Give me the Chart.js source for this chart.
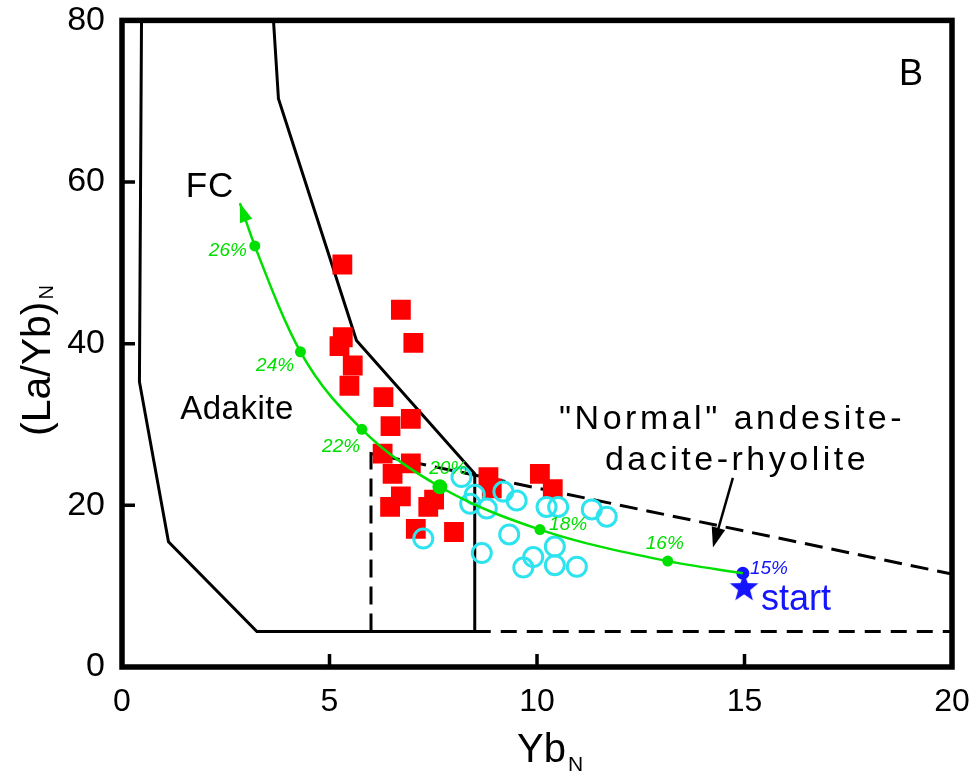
<!DOCTYPE html>
<html lang="en">
<head>
<meta charset="UTF-8">
<title>(La/Yb)N vs YbN</title>
<script src="https://cdn.jsdelivr.net/npm/chart.js"></script>
<style>
  * { margin: 0; padding: 0; box-sizing: border-box; }
  body { background: #fff; }
</style>
</head>
<body>
<canvas id="chart" width="978" height="772"></canvas>
<script>
// adakite samples (red squares)
const redYb   = [5.31, 6.72, 7.02, 5.32, 5.24, 5.56, 5.48, 6.30, 6.96, 6.47, 6.28, 6.96, 6.52, 6.72, 6.46, 7.38, 7.52, 7.08, 8.00, 8.83, 8.91, 10.07, 10.38];
const redLaYb = [49.8, 44.2, 40.1, 40.8, 39.7, 37.3, 34.8, 33.4, 30.7, 29.8, 26.4, 25.2, 23.9, 21.1, 19.8, 19.8, 20.7, 17.1, 16.7, 23.5, 22.1, 23.9, 22.0];

// other samples (cyan open circles)
const cyanYb   = [8.18, 8.50, 8.39, 8.79, 9.19, 9.51, 10.23, 10.51, 11.32, 11.68, 9.33, 8.67, 10.43, 9.91, 9.67, 10.43, 10.96, 7.26];
const cyanLaYb = [23.5, 21.3, 20.2, 19.6, 21.7, 20.6, 19.8, 19.8, 19.5, 18.6, 16.4, 14.1, 14.9, 13.6, 12.3, 12.6, 12.4, 15.9];

// FC model curve, arrow tip first, start (15%) last
const fcYb   = [2.84, 3.20, 4.30, 5.78, 7.66, 10.07, 13.15, 14.96];
const fcLaYb = [57.4, 52.1, 39.0, 29.4, 22.3, 17.0, 13.1, 11.6];
const fcPct  = ['', '26%', '24%', '22%', '20%', '18%', '16%', '15%'];
const pctYb   = [0, 2.55, 3.69, 5.28, 7.86, 10.75, 13.08, 15.59];
const pctLaYb = [0, 51.5, 37.3, 27.3, 24.5, 17.6, 15.3, 12.2];

// starting composition
const startYb = [14.99];
const startLaYb = [9.76];

// field boundaries
const adakiteYb   = [0.47, 0.42, 1.12, 3.25, 8.5, 8.5, 5.65, 3.77, 3.65];
const adakiteLaYb = [80, 35.3, 15.5, 4.4, 4.4, 23.9, 40.4, 70.3, 80];
const normalBaseYb   = [8.5, 20];
const normalBaseLaYb = [4.4, 4.4];
const normalTopYb   = [6, 6, 20];
const normalTopLaYb = [4.4, 26.4, 11.5];

// labels
const noteText = ['B', 'FC', 'Adakite', '"Normal" andesite-', 'dacite-rhyolite', 'start'];
const noteYb   = [19.01, 2.12, 2.77, 14.70, 14.82, 16.24];
const noteLaYb = [73.2, 59.3, 31.8, 30.6, 25.5, 8.3];
const pointerYb   = [14.72, 14.24];
const pointerLaYb = [23.4, 14.8];

const GREEN = '#00e000';
const BLUE = '#1414ff';
const CYAN = '#2de3ee';
const FONT = "'Liberation Sans', Arial, sans-serif";

Chart.defaults.font.family = FONT;
Chart.defaults.color = '#000';

const pts = (xs, ys) => xs.map((v, i) => ({ x: v, y: ys[i] }));

function makeStar(r) {
  const c = document.createElement('canvas');
  c.width = c.height = 2 * r + 2;
  const g = c.getContext('2d');
  g.translate(r + 1, r + 1);
  g.beginPath();
  for (let i = 0; i < 10; i++) {
    const rad = i % 2 ? r * 0.42 : r;
    const a = -Math.PI / 2 + i * Math.PI / 5;
    g.lineTo(rad * Math.cos(a), rad * Math.sin(a));
  }
  g.closePath();
  g.fillStyle = BLUE;
  g.fill();
  return c;
}

function arrowHead(ctx, tx, ty, dx, dy, len, half) {
  const d = Math.hypot(dx, dy) || 1;
  const ux = dx / d, uy = dy / d;
  const bx = tx - ux * len, by = ty - uy * len;
  ctx.beginPath();
  ctx.moveTo(tx, ty);
  ctx.lineTo(bx - uy * half, by + ux * half);
  ctx.lineTo(bx + uy * half, by - ux * half);
  ctx.closePath();
  ctx.fill();
}

const noteFont = ['36px', '35px', '33px', '34px', '34px', '36px'];
const noteColor = ['#000', '#000', '#000', '#000', '#000', BLUE];
const noteSpacing = ['0px', '1px', '0.5px', '3.5px', '3.5px', '0px'];

const extras = {
  id: 'extras',
  afterDatasetsDraw(chart) {
    const { ctx, scales: { x, y } } = chart;
    ctx.save();

    // arrowhead on FC curve
    const meta = chart.getDatasetMeta(0);
    const p0 = meta.data[0], p1 = meta.data[1];
    const cx = p0.cp2x !== undefined ? p0.cp2x : p1.x;
    const cy = p0.cp2y !== undefined ? p0.cp2y : p1.y;
    ctx.fillStyle = GREEN;
    arrowHead(ctx, p0.x, p0.y, p0.x - cx, p0.y - cy, 19, 6.5);

    // percent labels
    ctx.font = 'italic 19px ' + FONT;
    ctx.textAlign = 'center';
    ctx.textBaseline = 'middle';
    fcPct.forEach((t, i) => {
      if (!t) return;
      ctx.fillStyle = i === fcPct.length - 1 ? BLUE : GREEN;
      ctx.fillText(t, x.getPixelForValue(pctYb[i]), y.getPixelForValue(pctLaYb[i]));
    });

    // text notes
    noteText.forEach((t, i) => {
      ctx.font = noteFont[i] + ' ' + FONT;
      ctx.fillStyle = noteColor[i];
      ctx.letterSpacing = noteSpacing[i];
      ctx.fillText(t, x.getPixelForValue(noteYb[i]), y.getPixelForValue(noteLaYb[i]));
    });
    ctx.letterSpacing = '0px';

    // pointer to the normal field
    const ax = x.getPixelForValue(pointerYb[0]), ay = y.getPixelForValue(pointerLaYb[0]);
    const bx = x.getPixelForValue(pointerYb[1]), by = y.getPixelForValue(pointerLaYb[1]);
    ctx.strokeStyle = '#000';
    ctx.lineWidth = 2.5;
    ctx.beginPath();
    ctx.moveTo(ax, ay);
    ctx.lineTo(bx + (ax - bx) * 0.2, by + (ay - by) * 0.2);
    ctx.stroke();
    ctx.fillStyle = '#000';
    arrowHead(ctx, bx, by, bx - ax, by - ay, 20, 7);
    ctx.restore();
  },
  afterDraw(chart) {
    const { ctx, chartArea: a, scales: { x, y } } = chart;
    ctx.save();
    ctx.strokeStyle = '#000';

    // inward tick marks
    ctx.lineWidth = 3.5;
    ctx.beginPath();
    y.ticks.forEach(t => {
      if (t.value <= y.min || t.value >= y.max) return;
      const py = y.getPixelForValue(t.value);
      ctx.moveTo(a.left, py);
      ctx.lineTo(a.left + 13, py);
    });
    x.ticks.forEach(t => {
      if (t.value <= x.min || t.value >= x.max) return;
      const px = x.getPixelForValue(t.value);
      ctx.moveTo(px, a.bottom);
      ctx.lineTo(px, a.bottom - 13);
    });
    ctx.stroke();

    // frame
    ctx.lineWidth = 5.5;
    ctx.strokeRect(a.left, a.top, a.right - a.left, a.bottom - a.top);

    // axis titles
    ctx.fillStyle = '#000';
    ctx.textAlign = 'left';
    ctx.textBaseline = 'alphabetic';
    ctx.font = '40px ' + FONT;
    const xt = a.left + 395;
    ctx.fillText('Yb', xt, a.bottom + 95);
    const wYb = ctx.measureText('Yb').width;
    ctx.font = '21px ' + FONT;
    ctx.fillText('N', xt + wYb + 2, a.bottom + 104);

    ctx.translate(50, 436);
    ctx.rotate(-Math.PI / 2);
    ctx.font = '41px ' + FONT;
    ctx.fillText('(La/Yb)', 0, 0);
    const wLa = ctx.measureText('(La/Yb)').width;
    ctx.font = '20px ' + FONT;
    ctx.fillText('N', wLa + 2, 3);
    ctx.restore();
  }
};

const fcRadius = fcPct.map((t, i) => (i === 0 || i === fcPct.length - 1) ? 0 : (t === '20%' ? 7.5 : 5.5));

new Chart(document.getElementById('chart'), {
  type: 'scatter',
  data: {
    datasets: [
      {
        label: 'FC',
        data: pts(fcYb, fcLaYb),
        showLine: true,
        cubicInterpolationMode: 'monotone',
        borderColor: GREEN,
        borderWidth: 2.5,
        pointRadius: fcRadius,
        pointBackgroundColor: GREEN,
        pointBorderWidth: 0,
        order: 0
      },
      {
        label: 'start',
        data: pts(startYb, startLaYb),
        pointStyle: makeStar(15),
        order: 1
      },
      {
        label: '15%',
        data: [{ x: fcYb[fcYb.length - 1], y: fcLaYb[fcLaYb.length - 1] }],
        pointRadius: 6.5,
        pointBackgroundColor: BLUE,
        pointBorderWidth: 0,
        order: 1
      },
      {
        label: 'other',
        data: pts(cyanYb, cyanLaYb),
        pointRadius: 9.5,
        pointBorderWidth: 3,
        pointBorderColor: CYAN,
        pointBackgroundColor: 'rgba(0,0,0,0)',
        order: 2
      },
      {
        label: 'adakite samples',
        data: pts(redYb, redLaYb),
        pointStyle: 'rect',
        pointRadius: 14,
        pointBorderWidth: 0,
        pointBackgroundColor: '#ff0000',
        order: 3
      },
      {
        label: 'adakite field',
        data: pts(adakiteYb, adakiteLaYb),
        showLine: true,
        borderColor: '#000',
        borderWidth: 3,
        pointRadius: 0,
        order: 4
      },
      {
        label: 'normal base',
        data: pts(normalBaseYb, normalBaseLaYb),
        showLine: true,
        borderColor: '#000',
        borderWidth: 3,
        borderDash: [16, 10],
        pointRadius: 0,
        order: 4
      },
      {
        label: 'normal top',
        data: pts(normalTopYb, normalTopLaYb),
        showLine: true,
        borderColor: '#000',
        borderWidth: 3,
        borderDash: [18, 9],
        pointRadius: 0,
        order: 4
      }
    ]
  },
  options: {
    responsive: false,
    animation: false,
    events: [],
    layout: { padding: { top: 20, right: 26, bottom: 0, left: 0 } },
    plugins: { legend: { display: false }, tooltip: { enabled: false } },
    scales: {
      x: {
        type: 'linear',
        min: 0, max: 20,
        ticks: { stepSize: 5, padding: 0, font: { size: 32 }, color: '#000' },
        grid: { display: false, drawTicks: true, tickLength: 16 },
        border: { display: false },
        afterFit(s) { s.height = 105; }
      },
      y: {
        type: 'linear',
        min: 0, max: 80,
        ticks: { stepSize: 20, padding: 0, font: { size: 34 }, color: '#000' },
        grid: { display: false, drawTicks: true, tickLength: 17 },
        border: { display: false },
        afterFit(s) { s.width = 122; }
      }
    }
  },
  plugins: [extras]
});
</script>
</body>
</html>
